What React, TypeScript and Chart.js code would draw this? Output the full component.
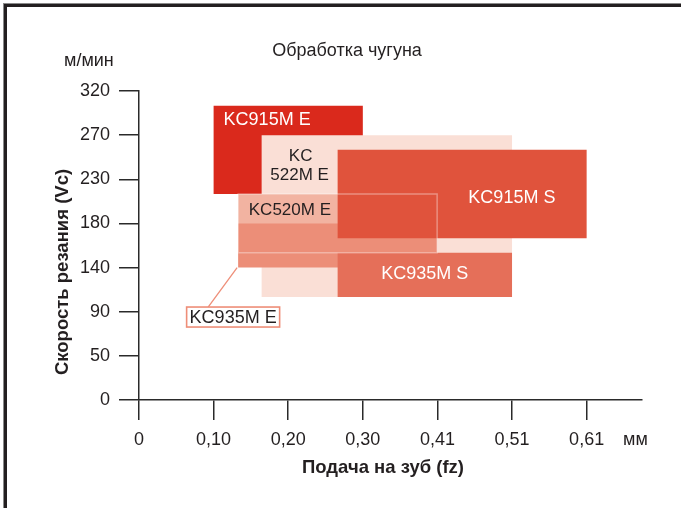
import React, { useEffect, useRef } from 'react';
import { Chart, registerables } from 'chart.js';

Chart.register(...registerables);

// ---- text ----
const chartTitle = 'Обработка чугуна';
const speedUnit = 'м/мин';
const feedUnit = 'мм';
const speedAxisTitle = 'Скорость резания (Vc)';
const feedAxisTitle = 'Подача на зуб (fz)';

// ---- axes ----
const speedTickValues = [0, 45.72, 91.44, 137.16, 182.88, 228.6, 274.32, 320.04];
const speedTickLabels = ['0', '50', '90', '140', '180', '230', '270', '320'];
const feedTickValues = [0, 0.1016, 0.2032, 0.3048, 0.4064, 0.508, 0.6096];
const feedTickLabels = ['0', '0,10', '0,20', '0,30', '0,41', '0,51', '0,61'];

// ---- application ranges (bottom to top drawing order) ----
const grades = ['KC915M E', 'KC522M E', 'KC520M E', 'KC935M E', 'KC915M S', 'KC935M S'];
const feedMin = [0.1016, 0.167, 0.135, 0.135, 0.2705, 0.2705];
const feedMax = [0.3048, 0.508, 0.406, 0.406, 0.6096, 0.508];
const speedMin = [213.4, 106.7, 152.4, 137.2, 167.6, 106.7];
const speedMax = [304.8, 274.3, 213.4, 182.9, 259.1, 152.4];
const gradeColors = ['#DA291C', '#FADFD6', '#F2B3A1', '#EC8E78', '#E0533C', '#E56F59'];

const FONT = "'Liberation Sans', Arial, Helvetica, sans-serif";
const TEXT = '#231F20';
const AXIS = '#2a2a2a';

function rectPoints(i: number) {
  return [
    { x: feedMin[i], y: speedMin[i] },
    { x: feedMax[i], y: speedMin[i] },
    { x: feedMax[i], y: speedMax[i] },
    { x: feedMin[i], y: speedMax[i] },
    { x: feedMin[i], y: speedMin[i] },
  ];
}

const annotate = {
  id: 'annotate',
  beforeDraw(chart: any) {
    const ctx = chart.ctx;
    ctx.save();
    ctx.fillStyle = '#8a8a8a';
    ctx.fillRect(3, 3, 678, 1);
    ctx.fillRect(3, 3, 1, 505);
    ctx.fillStyle = TEXT;
    ctx.fillRect(4, 4, 677, 3);
    ctx.fillRect(4, 4, 3, 504);
    ctx.restore();
  },
  afterDatasetsDraw(chart: any) {
    const ctx = chart.ctx;
    const xs = chart.scales.x;
    const ys = chart.scales.y;
    const r = (i: number) => ({
      l: xs.getPixelForValue(feedMin[i]),
      r: xs.getPixelForValue(feedMax[i]),
      t: ys.getPixelForValue(speedMax[i]),
      b: ys.getPixelForValue(speedMin[i]),
    });
    const R = grades.map((_, i) => r(i));
    ctx.save();
    ctx.textBaseline = 'middle';

    // KC915M E
    ctx.font = `18px ${FONT}`;
    ctx.fillStyle = '#ffffff';
    ctx.textAlign = 'left';
    ctx.fillText(grades[0], R[0].l + 10, R[0].t + 14.5);

    // KC522M E (two lines)
    ctx.font = `17px ${FONT}`;
    ctx.fillStyle = TEXT;
    ctx.textAlign = 'center';
    const cx1 = (R[1].l + R[4].l) / 2;
    ctx.fillText(grades[1].slice(0, 2), cx1 + 1, R[1].t + 21.5);
    ctx.fillText(grades[1].slice(2), cx1, R[1].t + 40);

    // KC520M E
    ctx.fillText(grades[2], (R[2].l + R[4].l) / 2 + 2, (R[2].t + R[3].t) / 2 + 2);

    // KC915M S
    ctx.font = `18px ${FONT}`;
    ctx.fillStyle = '#ffffff';
    ctx.fillText(grades[4], (R[2].r + R[4].r) / 2, (R[4].t + R[4].b) / 2 + 4);

    // KC935M S
    ctx.fillText(grades[5], (R[5].l + R[5].r) / 2, (R[5].t + R[5].b) / 2 - 1);

    // KC935M E callout
    const cx = R[3].l;
    const cy = R[3].b;
    ctx.strokeStyle = '#EE8E78';
    ctx.lineWidth = 1.3;
    ctx.beginPath();
    ctx.moveTo(cx - 30, cy + 39.5);
    ctx.lineTo(cx - 1, cy);
    ctx.stroke();
    const bx = cx - 51.5;
    const by = cy + 39.5;
    ctx.fillStyle = '#ffffff';
    ctx.fillRect(bx, by, 93, 20);
    ctx.lineWidth = 1.6;
    ctx.strokeRect(bx, by, 93, 20);
    ctx.fillStyle = TEXT;
    ctx.font = `18px ${FONT}`;
    ctx.fillText(grades[3], bx + 46.5, by + 10.5);
    ctx.restore();
  },
  afterDraw(chart: any) {
    const ctx = chart.ctx;
    ctx.save();
    ctx.fillStyle = TEXT;
    ctx.textBaseline = 'alphabetic';
    ctx.font = `18px ${FONT}`;
    ctx.textAlign = 'center';
    ctx.fillText(chartTitle, 347, 55.5);
    ctx.textAlign = 'left';
    ctx.fillText(speedUnit, 64, 66);
    ctx.fillText(feedUnit, 623, 445);

    ctx.font = `bold 18.5px ${FONT}`;
    ctx.textAlign = 'center';
    ctx.textBaseline = 'middle';
    ctx.fillText(feedAxisTitle, 383, 468);
    ctx.translate(63, 272);
    ctx.rotate(-Math.PI / 2);
    ctx.fillText(speedAxisTitle, 0, 0);
    ctx.restore();
  },
};

export default function App() {
  const canvasRef = useRef<HTMLCanvasElement | null>(null);

  useEffect(() => {
    const canvas = canvasRef.current;
    if (!canvas) return;
    const n = grades.length;
    const datasets: any[] = grades.map((g, i) => ({
      label: g,
      data: rectPoints(i),
      showLine: true,
      fill: 'shape',
      backgroundColor: gradeColors[i],
      borderColor: 'rgba(0,0,0,0)',
      borderWidth: 0,
      pointRadius: 0,
      pointHoverRadius: 0,
      tension: 0,
      order: n + 1 - i,
    }));
    // outline of KC520M E range drawn on top
    datasets.push({
      label: grades[2] + ' outline',
      data: rectPoints(2),
      showLine: true,
      fill: false,
      backgroundColor: 'rgba(0,0,0,0)',
      borderColor: 'rgba(255,255,255,0.35)',
      borderWidth: 1.5,
      pointRadius: 0,
      pointHoverRadius: 0,
      tension: 0,
      order: 0,
    });

    const chart = new Chart(canvas, {
      type: 'scatter',
      data: { datasets },
      options: {
        responsive: false,
        animation: false,
        devicePixelRatio: 1,
        events: [],
        layout: { padding: { top: 91, right: 39, left: 0, bottom: 0 } },
        plugins: {
          legend: { display: false },
          tooltip: { enabled: false },
          title: { display: false },
        },
        scales: {
          x: {
            type: 'linear',
            min: 0,
            max: 0.685,
            afterBuildTicks: (s: any) => {
              s.ticks = feedTickValues.map((v) => ({ value: v }));
            },
            afterFit: (s: any) => {
              s.height = 108;
            },
            grid: { drawOnChartArea: false, drawTicks: true, tickLength: 20, color: AXIS, lineWidth: 1.5 },
            border: { display: true, color: AXIS, width: 1.5 },
            ticks: {
              autoSkip: false,
              maxRotation: 0,
              padding: 9,
              color: TEXT,
              font: { family: FONT, size: 18 },
              callback: (_v: any, i: number) => feedTickLabels[i],
            },
          },
          y: {
            type: 'linear',
            min: 0,
            max: 320.04,
            afterBuildTicks: (s: any) => {
              s.ticks = speedTickValues.map((v) => ({ value: v }));
            },
            afterFit: (s: any) => {
              s.width = 139;
            },
            grid: { drawOnChartArea: false, drawTicks: true, tickLength: 20, color: AXIS, lineWidth: 1.5 },
            border: { display: true, color: AXIS, width: 1.5 },
            ticks: {
              autoSkip: false,
              padding: 9,
              color: TEXT,
              font: { family: FONT, size: 18 },
              callback: (_v: any, i: number) => speedTickLabels[i],
            },
          },
        },
      },
      plugins: [annotate],
    } as any);

    return () => chart.destroy();
  }, []);

  return (
    <div style={{ position: 'fixed', left: 0, top: 0, width: 681, height: 508, background: '#ffffff' }}>
      <canvas ref={canvasRef} width={681} height={508} style={{ display: 'block', width: 681, height: 508 }} />
    </div>
  );
}
